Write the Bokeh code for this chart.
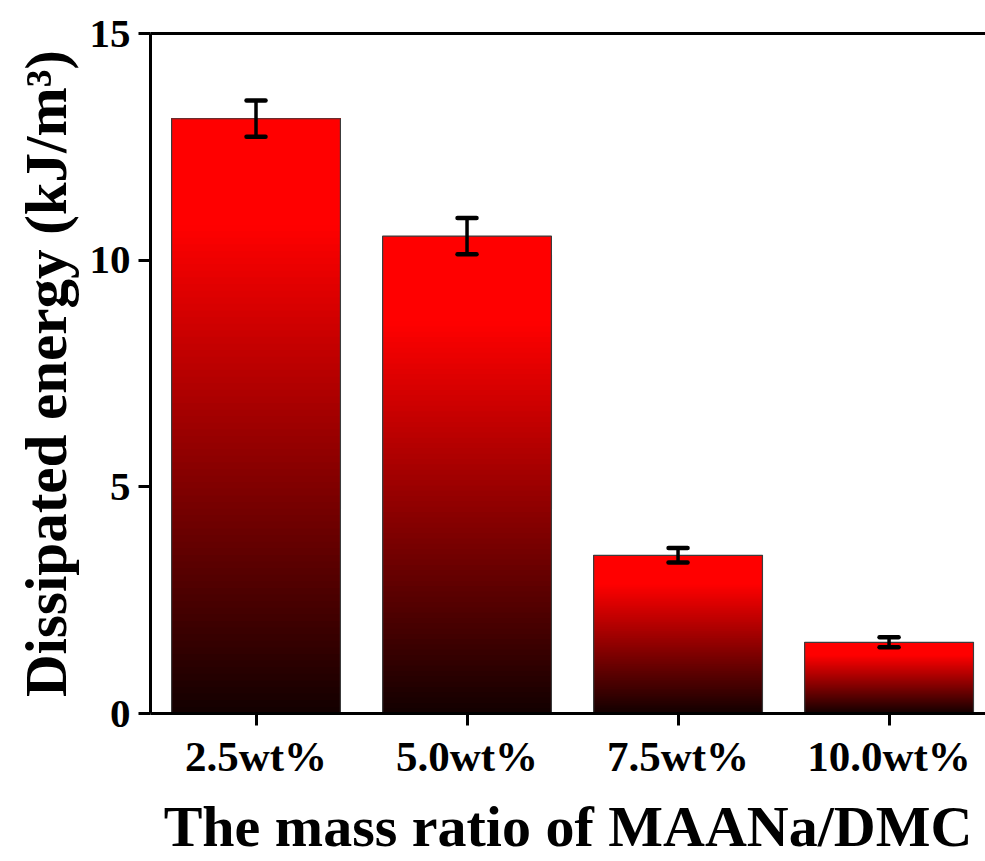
from bokeh.plotting import figure
from bokeh.models import ColumnDataSource, Whisker, TeeHead, FixedTicker, LinearAxis, Range1d
from bokeh.embed import file_html
from bokeh.resources import INLINE

# Dissipated energy for each MAANa/DMC mass ratio, with standard deviation
categories = ["2.5wt%", "5.0wt%", "7.5wt%", "10.0wt%"]
energy = [13.12, 10.53, 3.49, 1.57]
error = [0.40, 0.40, 0.16, 0.11]
y_ticks = [0, 5, 10, 15]

FONT = "Liberation Serif"
BAR_WIDTH = 0.8
N_STEPS = 90  # slices used to build the vertical red-to-black gradient

positions = list(range(1, len(categories) + 1))

p = figure(
    width=985, height=861,
    x_range=Range1d(0.5, 4.457), y_range=Range1d(0, 15),
    output_backend="svg", toolbar_location=None,
)
p.min_border_left = 150
p.min_border_right = 0
p.min_border_top = 33
p.min_border_bottom = 148
p.outline_line_color = None
p.xgrid.visible = False
p.ygrid.visible = False
p.background_fill_color = "white"
p.border_fill_color = "white"


def shade(t):
    """Colour at relative height t (0 = bar base, 1 = bar top)."""
    k = min(1.0, t / 0.82)
    r = int(round(18 + (255 - 18) * k))
    return "#%02x0000" % r


# gradient: each slice runs from its own base up to the bar top, drawn bottom first
left, right, bottom, top, color = [], [], [], [], []
for pos, v in zip(positions, energy):
    for i in range(N_STEPS):
        t = i / N_STEPS
        left.append(pos - BAR_WIDTH / 2)
        right.append(pos + BAR_WIDTH / 2)
        bottom.append(v * t)
        top.append(v)
        color.append(shade((i + 0.5) / N_STEPS))
grad = ColumnDataSource(dict(left=left, right=right, bottom=bottom, top=top, color=color))
p.quad(left="left", right="right", bottom="bottom", top="top", source=grad,
       fill_color="color", line_color=None)

# bar outlines
bars = ColumnDataSource(dict(x=positions, top=energy,
                             upper=[v + e for v, e in zip(energy, error)],
                             lower=[v - e for v, e in zip(energy, error)]))
p.vbar(x="x", top="top", bottom=0, width=BAR_WIDTH, source=bars,
       fill_color=None, line_color="#3c3c3c", line_width=1.2)

# error bars
head_kw = dict(size=19, line_width=4.5, line_color="black", line_cap="round")
p.add_layout(Whisker(base="x", upper="upper", lower="lower", source=bars,
                     line_width=3.5, line_color="black", level="overlay",
                     upper_head=TeeHead(**head_kw), lower_head=TeeHead(**head_kw)))

# axes
for ax in (p.xaxis[0], p.yaxis[0]):
    ax.axis_line_width = 3
    ax.major_tick_line_width = 3
    ax.major_tick_in = 0
    ax.major_tick_out = 12
    ax.minor_tick_line_color = None
    ax.major_label_text_font = FONT
    ax.major_label_text_font_style = "bold"
    ax.major_label_text_color = "black"
    ax.axis_label_text_font = FONT
    ax.axis_label_text_font_style = "bold"
    ax.axis_label_text_color = "black"

p.xaxis.ticker = FixedTicker(ticks=positions)
p.xaxis.major_label_overrides = {pos: lab for pos, lab in zip(positions, categories)}
p.xaxis.major_label_text_font_size = "43px"
p.xaxis.major_label_standoff = 7
p.xaxis.axis_label = "The mass ratio of MAANa/DMC"
p.xaxis.axis_label_text_font_size = "58px"
p.xaxis.axis_label_standoff = 11

p.yaxis.ticker = FixedTicker(ticks=y_ticks)
p.yaxis.major_label_text_font_size = "41px"
p.yaxis.major_label_standoff = 8
p.yaxis.axis_label = "Dissipated energy (kJ/m³)"
p.yaxis.axis_label_text_font_size = "59px"
p.yaxis.axis_label_standoff = 8

# plain top border line
top_axis = LinearAxis(ticker=FixedTicker(ticks=[]), axis_line_width=3,
                      major_tick_line_color=None, minor_tick_line_color=None,
                      major_label_text_font_size="0px")
p.add_layout(top_axis, "above")

open("out.html", "w").write(file_html(p, INLINE))
